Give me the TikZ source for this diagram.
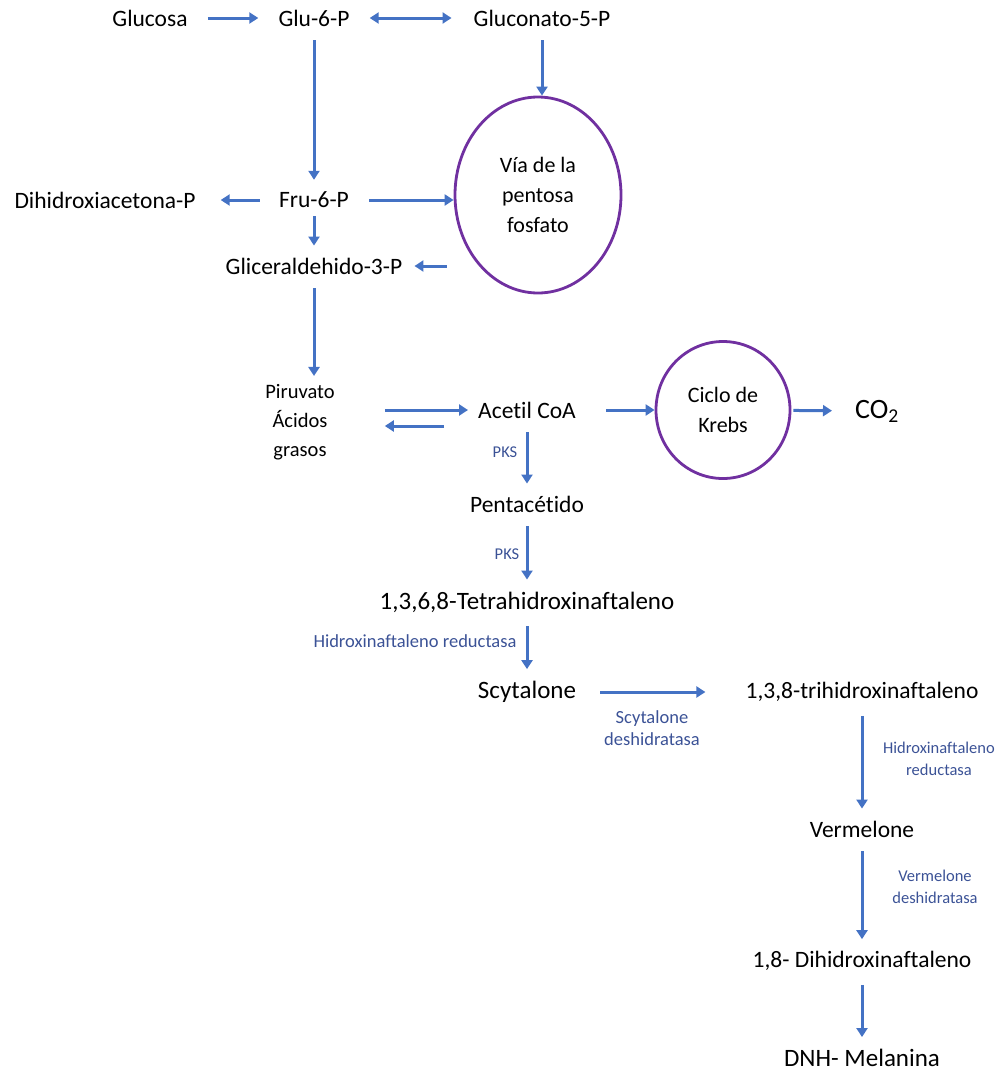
\documentclass[tikz,border=0pt]{standalone}
\usepackage{fontspec}
\setmainfont{Carlito}[RawFeature=-liga]
\usetikzlibrary{arrows.meta,shapes.geometric}
\definecolor{flowblue}{RGB}{68,114,196}
\definecolor{cyclepurple}{RGB}{112,48,160}
\definecolor{enzblue}{RGB}{59,82,150}

\begin{document}
\begin{tikzpicture}[x=1pt, y=-1pt,
    met/.style={inner sep=0pt, font=\fontsize{23.5}{29}\selectfont, align=center},
    bigmet/.style={inner sep=0pt, font=\fontsize{25}{30}\selectfont},
    enzyme/.style={inner sep=0pt, text=enzblue, font=\fontsize{18.5}{21.5}\selectfont, align=center},
    smallenzyme/.style={enzyme, font=\fontsize{16.5}{22.5}\selectfont},
    cycle/.style={ellipse, draw=cyclepurple, line width=2.8pt, inner sep=0pt, font=\fontsize{22}{30}\selectfont, align=center},
    flow/.style={draw=flowblue, line width=3pt, -{Triangle[length=9pt,width=11pt]}, shorten <=14pt, shorten >=12pt},
    flowboth/.style={flow, {Triangle[length=9pt,width=11pt]}-{Triangle[length=9pt,width=11pt]}}]

        \useasboundingbox (0,0) rectangle (1001,1074);

        \node[met] at (150, 18) (glucosa) {Glucosa};
        \node[met] at (314, 18) (glu6p) {Glu-6-P};
        \node[met] at (542, 18) (gluconato) {Gluconato-5-P};

        \node[cycle, minimum width=166pt, minimum height=196pt] at (538, 195) (pentosa) {Vía de la\\pentosa\\fosfato};

        \node[met] at (105, 200) (dihidroxi) {Dihidroxiacetona-P};
        \node[met] at (314, 200) (fru6p) {Fru-6-P};
        \node[met] at (314, 266) (glicer) {Gliceraldehido-3-P};

        \node[met, font=\fontsize{20.5}{29}\selectfont] at (300, 422) (piruvato) {Piruvato\\Ácidos\\grasos};
        \node[met] at (527, 410) (acetil) {Acetil CoA};
        \node[cycle, minimum width=134pt, minimum height=137pt] at (723, 410) (krebs) {Ciclo de\\Krebs};
        \node[bigmet, font=\fontsize{28}{30}\selectfont] at (877, 411) (co2) {CO\textsubscript{2}};

        \node[met] at (527, 504) (penta) {Pentacétido};
        \node[bigmet] at (527, 602) (tetra) {1,3,6,8-Tetrahidroxinaftaleno};
        \node[bigmet] at (527, 692) (scyt) {Scytalone};
        \node[met] at (862, 692) (trihid) {1,3,8-trihidroxinaftaleno};
        \node[met] at (862, 829) (verm) {Vermelone};
        \node[met] at (862, 961) (dihid) {1,8- Dihidroxinaftaleno};
        \node[bigmet] at (862, 1058) (dnh) {DNH- Melanina};

        \node[smallenzyme] at (505, 452) (pks1) {PKS};
        \node[smallenzyme] at (507, 554) (pks2) {PKS};
        \node[enzyme] at (415, 641) (hidred1) {Hidroxinaftaleno reductasa};
        \node[enzyme] at (652, 728) (scytdes) {Scytalone\\deshidratasa};
        \node[smallenzyme] at (939, 759) (hidred2) {Hidroxinaftaleno\\reductasa};
        \node[smallenzyme] at (935, 887) (vermdes) {Vermelone\\deshidratasa};

        \draw[flow, shorten <=20pt, shorten >=20pt] (glucosa) -- (glu6p);
        \draw[flowboth, shorten <=20pt, shorten >=22pt] (glu6p) -- (gluconato);
        \draw[flow, shorten >=0pt] (gluconato) -- (gluconato |- pentosa.north);

        \draw[flow] (glu6p) -- (fru6p);
        \draw[flow, shorten <=19pt, shorten >=25pt] (fru6p) -- (dihidroxi);
        \draw[flow, shorten <=20pt, shorten >=0pt] (fru6p) -- (fru6p -| pentosa.west);
        \draw[flow, shorten <=8pt] (fru6p) -- (glicer);
        \draw[flow, shorten <=7pt] (pentosa.west |- glicer) -- (glicer);

        \draw[flow, shorten >=8pt] (glicer) -- (glicer |- piruvato.north);
        \draw[flow, shorten <=50pt, shorten >=10pt] (piruvato.east |- acetil) -- (acetil);
        \draw[flow, shorten <=34pt, shorten >=50pt] ([yshift=-16pt]acetil.west) -- ([yshift=-16pt]acetil.west -| piruvato.east);
        \draw[flow, shorten <=30pt, shorten >=0pt] (acetil) -- (krebs);
        \draw[flow, shorten <=2pt, shorten >=23pt] (krebs) -- (co2);

        \draw[flow] (acetil) -- (penta);
        \draw[flow] (penta) -- (tetra);
        \draw[flow] (tetra) -- (scyt);
        \draw[flow, shorten <=24pt, shorten >=40pt] (scyt) -- (trihid);
        \draw[flow] (trihid) -- (verm);
        \draw[flow] (verm) -- (dihid);
        \draw[flow] (dihid) -- (dnh);
\end{tikzpicture}
\end{document}
